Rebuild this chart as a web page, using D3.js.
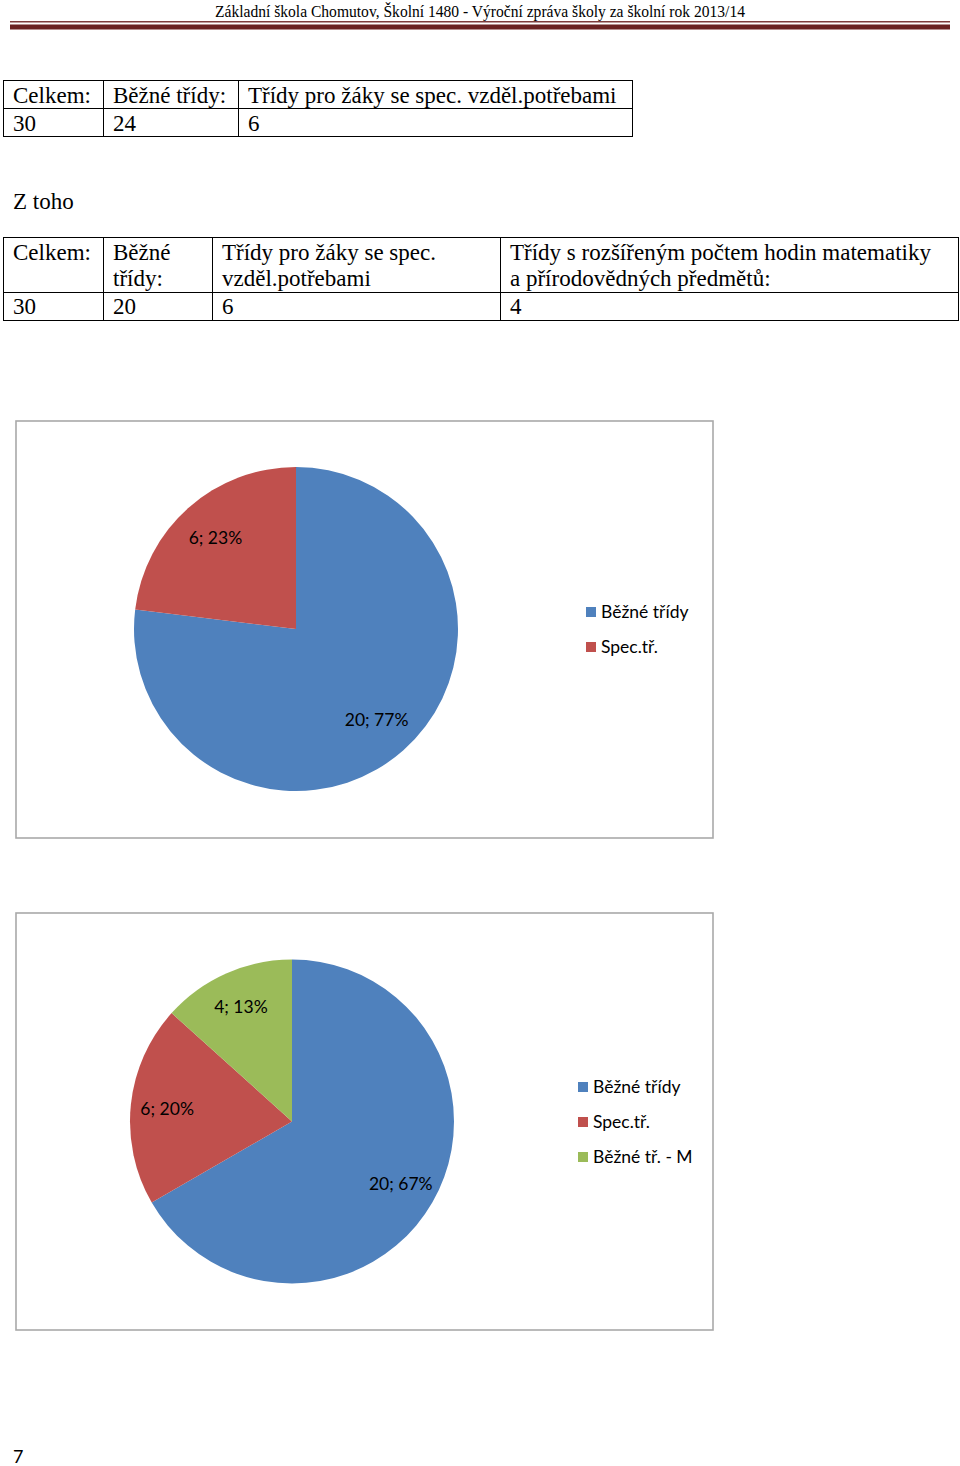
<!DOCTYPE html>
<html><head><meta charset="utf-8">
<script src="https://cdn.jsdelivr.net/npm/d3@7/dist/d3.min.js"></script>
<style>
html,body{margin:0;padding:0;background:#fff;}
svg{display:block;}
</style></head>
<body>
<svg id="page" width="960" height="1466"></svg>
<script>
// ---- data ----
const headerText = "Základní škola Chomutov, Školní 1480 - Výroční zpráva školy za školní rok 2013/14";
const table1Headers = ["Celkem:", "Běžné třídy:", "Třídy pro žáky se spec. vzděl.potřebami"];
const table1Values = ["30", "24", "6"];
const subTitle = "Z toho";
const table2Headers = [["Celkem:"], ["Běžné", "třídy:"], ["Třídy pro žáky se spec.", "vzděl.potřebami"], ["Třídy s rozšířeným počtem hodin matematiky", "a přírodovědných předmětů:"]];
const table2Values = ["30", "20", "6", "4"];
const pie1Categories = ["Běžné třídy", "Spec.tř."];
const pie1Values = [20, 6];
const pie1Percents = ["77%", "23%"];
const pie2Categories = ["Běžné třídy", "Spec.tř.", "Běžné tř. - M"];
const pie2Values = [20, 6, 4];
const pie2Percents = ["67%", "20%", "13%"];
const pageNumber = "7";

const colors = ["#4f81bd", "#c0504d", "#9bbb59"];
const serif = "'Liberation Serif','Times New Roman',serif";
const sans = "Lato,'Open Sans',sans-serif";

const svg = d3.select("#page");

// ---- header ----
svg.append("text").attr("x", 480).attr("y", 17).attr("text-anchor", "middle")
  .attr("font-family", serif).attr("font-size", 17)
  .attr("textLength", 530).attr("lengthAdjust", "spacingAndGlyphs")
  .attr("fill", "#000").text(headerText);
svg.append("rect").attr("x", 10).attr("y", 21).attr("width", 940).attr("height", 1.5).attr("fill", "#7e3d3d");
svg.append("rect").attr("x", 10).attr("y", 24.5).attr("width", 940).attr("height", 5).attr("fill", "#6a2323");

// ---- tables ----
function drawTable(g, colEdges, rowEdges, headers, values, baselines, valueBaseline) {
  const x = d3.scaleOrdinal().domain(d3.range(colEdges.length)).range(colEdges);
  g.append("rect").attr("x", colEdges[0]).attr("y", rowEdges[0])
    .attr("width", colEdges[colEdges.length - 1] - colEdges[0])
    .attr("height", rowEdges[rowEdges.length - 1] - rowEdges[0])
    .attr("fill", "none").attr("stroke", "#000").attr("stroke-width", 1);
  rowEdges.slice(1, -1).forEach(y => g.append("line").attr("x1", colEdges[0]).attr("x2", colEdges[colEdges.length - 1])
    .attr("y1", y).attr("y2", y).attr("stroke", "#000"));
  colEdges.slice(1, -1).forEach(cx => g.append("line").attr("x1", cx).attr("x2", cx)
    .attr("y1", rowEdges[0]).attr("y2", rowEdges[rowEdges.length - 1]).attr("stroke", "#000"));
  headers.forEach((h, i) => {
    const lines = Array.isArray(h) ? h : [h];
    lines.forEach((ln, j) => g.append("text").attr("x", x(i) + 9.5).attr("y", baselines[j])
      .attr("font-family", serif).attr("font-size", 23).attr("fill", "#000").text(ln));
  });
  values.forEach((v, i) => g.append("text").attr("x", x(i) + 9.5).attr("y", valueBaseline)
    .attr("font-family", serif).attr("font-size", 23).attr("fill", "#000").text(v));
}
drawTable(svg.append("g"), [3.5, 103.5, 238.5, 632.5], [80.5, 108.5, 136.5], table1Headers, table1Values, [103], 131);

svg.append("text").attr("x", 13).attr("y", 209).attr("font-family", serif).attr("font-size", 23).text(subTitle);

drawTable(svg.append("g"), [3.5, 103.5, 212.5, 500.5, 958.5], [237.5, 292.5, 320.5], table2Headers, table2Values, [260, 286], 314);

// ---- pie charts ----
function drawPie(box, center, radius, labelFactor, cats, vals, pcts, legendX, legendY, legendStep) {
  const g = svg.append("g");
  g.append("rect").attr("x", box.x).attr("y", box.y).attr("width", box.w).attr("height", box.h)
    .attr("fill", "#fff").attr("stroke", "#a9a9a9").attr("stroke-width", 1.6);
  const pie = d3.pie().sort(null).value(d => d)(vals);
  const arc = d3.arc().innerRadius(0).outerRadius(radius);
  const labelArc = d3.arc().innerRadius(radius * labelFactor).outerRadius(radius * labelFactor);
  const pg = g.append("g").attr("transform", `translate(${center[0]},${center[1]})`);
  pg.selectAll("path").data(pie).join("path").attr("d", arc).attr("fill", (d, i) => colors[i]);
  pg.selectAll("text").data(pie).join("text")
    .attr("transform", d => `translate(${labelArc.centroid(d)})`)
    .attr("text-anchor", "middle").attr("dy", "0.35em")
    .attr("font-family", sans).attr("font-size", 17.5).attr("fill", "#000")
    .text((d, i) => `${vals[i]}; ${pcts[i]}`);
  const lg = g.append("g");
  cats.forEach((c, i) => {
    const y = legendY + i * legendStep;
    lg.append("rect").attr("x", legendX).attr("y", y - 5).attr("width", 10).attr("height", 10).attr("fill", colors[i]);
    lg.append("text").attr("x", legendX + 15).attr("y", y).attr("dy", "0.35em")
      .attr("font-family", sans).attr("font-size", 17.5).attr("fill", "#000").text(c);
  });
}
drawPie({x: 16, y: 421, w: 697, h: 417}, [296, 629], 162, 0.75, pie1Categories, pie1Values, pie1Percents, 586, 612, 35);
drawPie({x: 16, y: 913, w: 697, h: 417}, [292, 1121.5], 162, 0.775, pie2Categories, pie2Values, pie2Percents, 578, 1087, 35);

svg.append("text").attr("x", 13).attr("y", 1463).attr("font-family", sans).attr("font-size", 18).text(pageNumber);
</script>
</body></html>
